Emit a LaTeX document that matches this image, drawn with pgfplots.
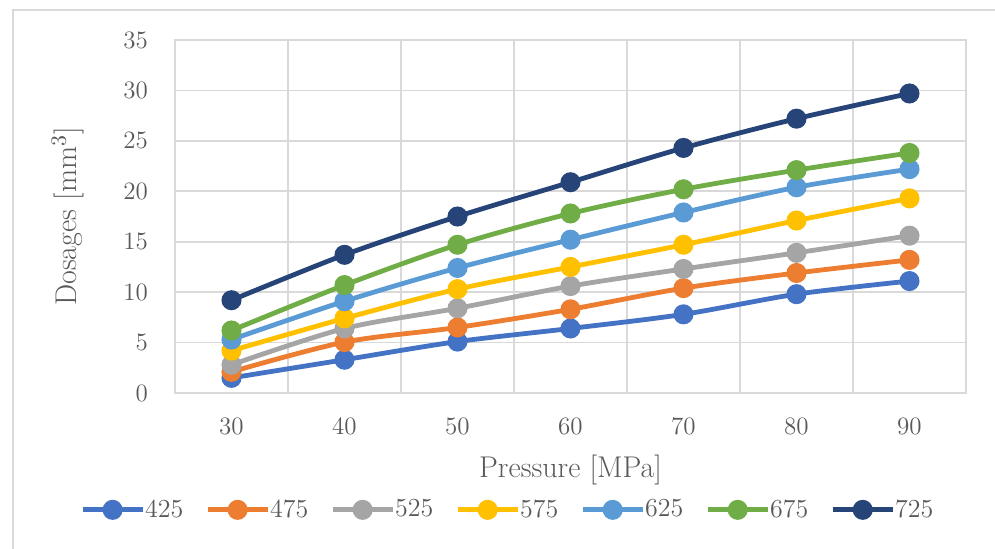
\documentclass[border=0pt]{standalone}
\usepackage{pgfplots}
\pgfplotsset{compat=1.18}
\definecolor{c1}{HTML}{4472C4}
\definecolor{c2}{HTML}{ED7D31}
\definecolor{c3}{HTML}{A5A5A5}
\definecolor{c4}{HTML}{FFC000}
\definecolor{c5}{HTML}{5B9BD5}
\definecolor{c6}{HTML}{70AD47}
\definecolor{c7}{HTML}{264478}
\definecolor{gridc}{HTML}{D9D9D9}
\definecolor{txt}{HTML}{595959}
\begin{document}
\begin{tikzpicture}
\path[use as bounding box] (0,0) rectangle (497.5pt,274pt);
\draw[gridc, line width=0.8pt] (6.5pt,-10pt) rectangle (510pt,269pt);
\begin{axis}[
  at={(87.5pt,77.5pt)}, anchor=south west,
  scale only axis, width=395.5pt, height=176.5pt,
  xmin=25, xmax=95, ymin=0, ymax=35,
  xtick={30,40,...,90}, minor xtick={35,45,...,85},
  ytick={0,5,...,35},
  xminorgrids, ymajorgrids,
  grid style={gridc, line width=0.9pt},
  minor grid style={gridc, line width=0.9pt},
  axis line style={gridc, line width=0.9pt},
  major tick length=0pt, minor tick length=0pt,
  tick style={draw=none},
  /pgf/number format/assume math mode=true,
  ticklabel style={font=\fontsize{12.5}{14}\selectfont, text=txt},
  yticklabel style={xshift=-10pt},
  xticklabel style={yshift=-9pt},
  xlabel={Pressure [MPa]}, ylabel={Dosages [mm$^3$]},
  label style={font=\fontsize{15}{17}\selectfont, text=txt},
  xlabel style={yshift=-3pt},
  ylabel style={yshift=13pt},
  every axis plot/.append style={line width=2.4pt, smooth, mark=*, mark size=3.8pt, mark options={solid}},
  legend columns=7,
  legend style={draw=none, fill=none, at={(0.422,-0.331)}, anchor=center,
    font=\fontsize{13}{15}\selectfont, text=txt,
    /tikz/every even column/.append style={column sep=9pt},
    /tikz/every odd column/.append style={column sep=-2pt}},
  legend image code/.code={\draw[mark repeat=2,mark phase=2,#1] plot coordinates {(0pt,0pt) (15pt,0pt) (30pt,0pt)};},
]
\addplot[c1] coordinates {(30,1.5) (40,3.3) (50,5.1) (60,6.4) (70,7.8) (80,9.8) (90,11.1)};
\addplot[c2] coordinates {(30,2.1) (40,5.05) (50,6.5) (60,8.3) (70,10.4) (80,11.9) (90,13.2)};
\addplot[c3] coordinates {(30,2.8) (40,6.4) (50,8.4) (60,10.6) (70,12.3) (80,13.9) (90,15.6)};
\addplot[c4] coordinates {(30,4.2) (40,7.4) (50,10.3) (60,12.5) (70,14.7) (80,17.1) (90,19.3)};
\addplot[c5] coordinates {(30,5.3) (40,9.1) (50,12.4) (60,15.2) (70,17.9) (80,20.4) (90,22.2)};
\addplot[c6] coordinates {(30,6.2) (40,10.7) (50,14.7) (60,17.8) (70,20.2) (80,22.1) (90,23.8)};
\addplot[c7] coordinates {(30,9.2) (40,13.7) (50,17.5) (60,20.9) (70,24.3) (80,27.2) (90,29.7)};
\legend{425,475,525,575,625,675,725}
\end{axis}
\end{tikzpicture}
\end{document}
